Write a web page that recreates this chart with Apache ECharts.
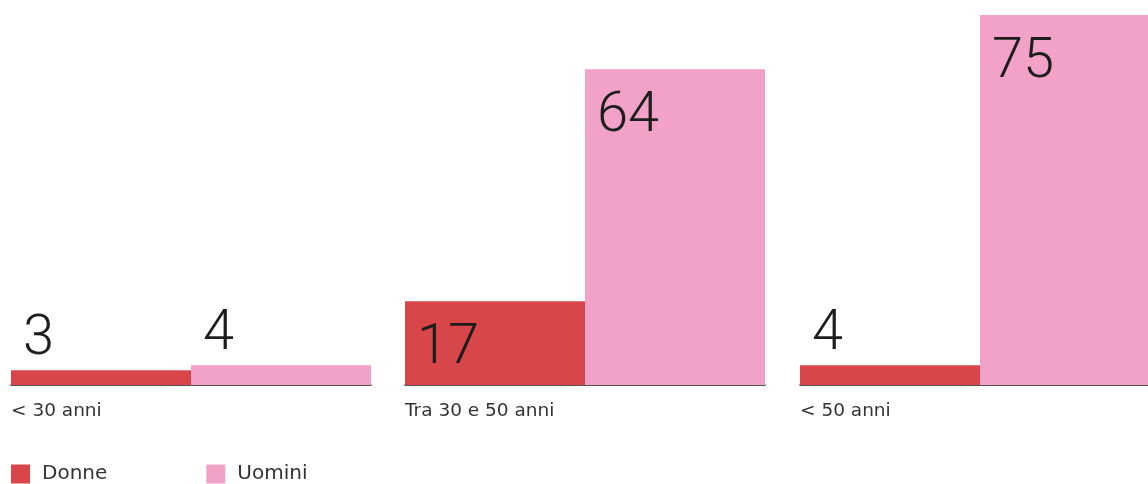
<!DOCTYPE html>
<html><head><meta charset="utf-8">
<script src="https://cdn.jsdelivr.net/npm/echarts@6/dist/echarts.min.js"></script>
<style>html,body{margin:0;padding:0;background:#fff}#c{width:1148px;height:484px}</style>
</head><body><div id="c"></div>
<script>
const categories = ['< 30 anni', 'Tra 30 e 50 anni', '< 50 anni'];
const seriesNames = ['Donne', 'Uomini'];
const donne = [3, 17, 4];
const uomini = [4, 64, 75];

const colors = ['#D9464A', '#F2A2C9'];
const lefts = [11, 405, 800];
const chart = echarts.init(document.getElementById('c'));

const grids = [], xAxes = [], yAxes = [], series = [];
const numFont = {fontFamily: 'Roboto', fontWeight: 300, fontSize: 56, color: '#1d1d1b'};
function mkData(v) {
  const inside = v >= 10;
  return [{
    value: v,
    label: Object.assign({
      show: true,
      position: inside ? [12, 20] : [12, -58],
      align: 'left', verticalAlign: 'top'
    }, numFont)
  }];
}
categories.forEach((cat, i) => {
  grids.push({left: lefts[i], top: 15, width: 360, height: 370, outerBoundsMode: 'none', containLabel: false});
  xAxes.push({
    type: 'category', gridIndex: i, data: [cat],
    axisLine: {show: true, lineStyle: {color: '#1d1d1b', width: 1.5}},
    axisTick: {show: false},
    axisLabel: {
      margin: 17, align: 'center',
      formatter: v => '{a|' + v + '}',
      rich: {a: {width: 360, align: 'left', fontFamily: 'DejaVu Sans', fontSize: 18.5, color: '#333'}}
    }
  });
  yAxes.push({type: 'value', gridIndex: i, min: 0, max: 75, show: false, splitLine: {show: false}});
  [donne, uomini].forEach((arr, s) => {
    series.push({
      type: 'bar', name: seriesNames[s], xAxisIndex: i, yAxisIndex: i,
      data: mkData(arr[i]), barGap: '0%', barCategoryGap: '0%',
      itemStyle: {color: colors[s]}, animation: false
    });
  });
});

chart.setOption({
  animation: false,
  color: colors,
  grid: grids, xAxis: xAxes, yAxis: yAxes, series: series,
  legend: {
    data: seriesNames, left: 11, top: 464, icon: 'rect', padding: 0,
    itemWidth: 19, itemHeight: 19, itemGap: 99,
    textStyle: {
      padding: [0, 0, 0, 7],
      fontFamily: 'DejaVu Sans', fontSize: 20, color: '#333'
    }
  }
});
</script></body></html>
